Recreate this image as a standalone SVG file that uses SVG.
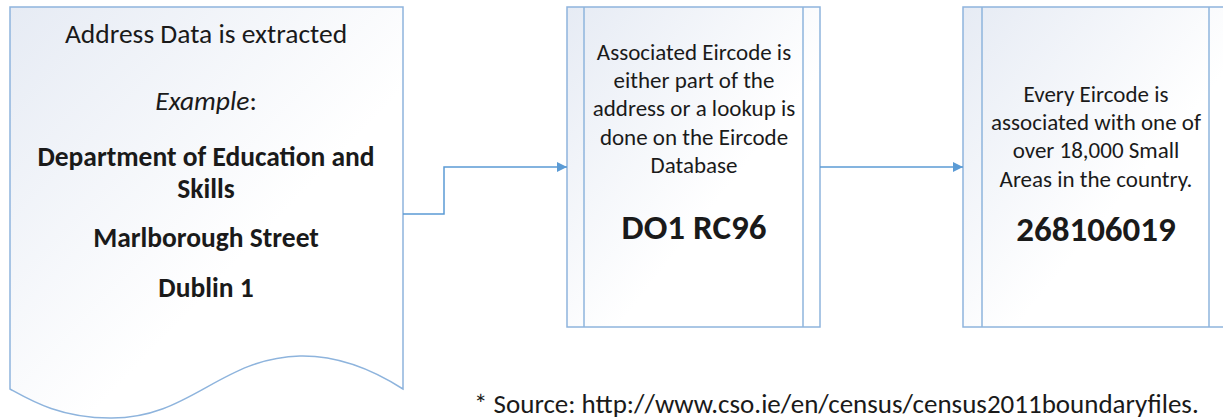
<svg xmlns="http://www.w3.org/2000/svg" width="1223" height="419" viewBox="0 0 1223 419">
<defs>
<linearGradient id="g" x1="0" y1="0" x2="1" y2="1">
<stop offset="0" stop-color="#e6ebf4"/>
<stop offset="0.6" stop-color="#ffffff"/>
</linearGradient>
<marker id="arr" viewBox="0 0 10 10" refX="10" refY="5" markerWidth="10" markerHeight="10" markerUnits="userSpaceOnUse" orient="auto">
<path d="M0,0 L10,5 L0,10 z" fill="#5b9bd5"/>
</marker>
<style>
.shape{fill:url(#g);stroke:#8eb4dd;stroke-width:1.5}
.inner{stroke:#8eb4dd;stroke-width:1.5;fill:none}
.conn{stroke:#5b9bd5;stroke-width:1.5;fill:none;marker-end:url(#arr)}
text{font-family:Carlito,Calibri,"Open Sans","Liberation Sans",sans-serif;fill:#1a1a1a;text-anchor:middle}
.t1{font-size:27.5px}
.t2{font-size:23px}
.b1{font-size:27.5px;font-weight:bold}
.b2{font-size:35px;font-weight:bold}
</style>
</defs>
<g id="node-address">
<path class="shape" d="M10,7 L403,7 L403,389 Q350,355 300,356 C220,358 190,419 110,418 C60,418 30,400 10,389 Z"/>
<text class="t1" x="206" y="43">Address Data is extracted</text>
<text class="t1" x="206" y="110"><tspan font-style="italic">Example</tspan>:</text>
<text class="b1" x="206" y="166">Department of Education and</text>
<text class="b1" x="206" y="198">Skills</text>
<text class="b1" x="206" y="247">Marlborough Street</text>
<text class="b1" x="206" y="297">Dublin 1</text>
</g>
<g id="node-eircode">
<rect class="shape" x="567" y="7" width="253" height="320"/>
<line class="inner" x1="584" y1="7" x2="584" y2="327"/>
<line class="inner" x1="803" y1="7" x2="803" y2="327"/>
<text class="t2" x="694" y="60">Associated Eircode is</text>
<text class="t2" x="694" y="88">either part of the</text>
<text class="t2" x="694" y="116">address or a lookup is</text>
<text class="t2" x="694" y="145">done on the Eircode</text>
<text class="t2" x="694" y="173">Database</text>
<text class="b2" x="694" y="239">DO1 RC96</text>
</g>
<g id="node-smallarea">
<rect class="shape" x="963" y="7" width="263" height="320"/>
<line class="inner" x1="982" y1="7" x2="982" y2="327"/>
<line class="inner" x1="1209" y1="7" x2="1209" y2="327"/>
<text class="t2" x="1096" y="102">Every Eircode is</text>
<text class="t2" x="1096" y="130">associated with one of</text>
<text class="t2" x="1096" y="158">over 18,000 Small</text>
<text class="t2" x="1096" y="187">Areas in the country.</text>
<text class="b2" x="1096" y="241">268106019</text>
</g>
<g id="connectors">
<path class="conn" d="M403,214 L444,214 L444,167 L567,167"/>
<path class="conn" d="M820,167 L963,167"/>
</g>
<text x="474" y="413" style="font-size:27px;text-anchor:start">* Source:  http://www.cso.ie/en/census/census2011boundaryfiles.</text>
</svg>
